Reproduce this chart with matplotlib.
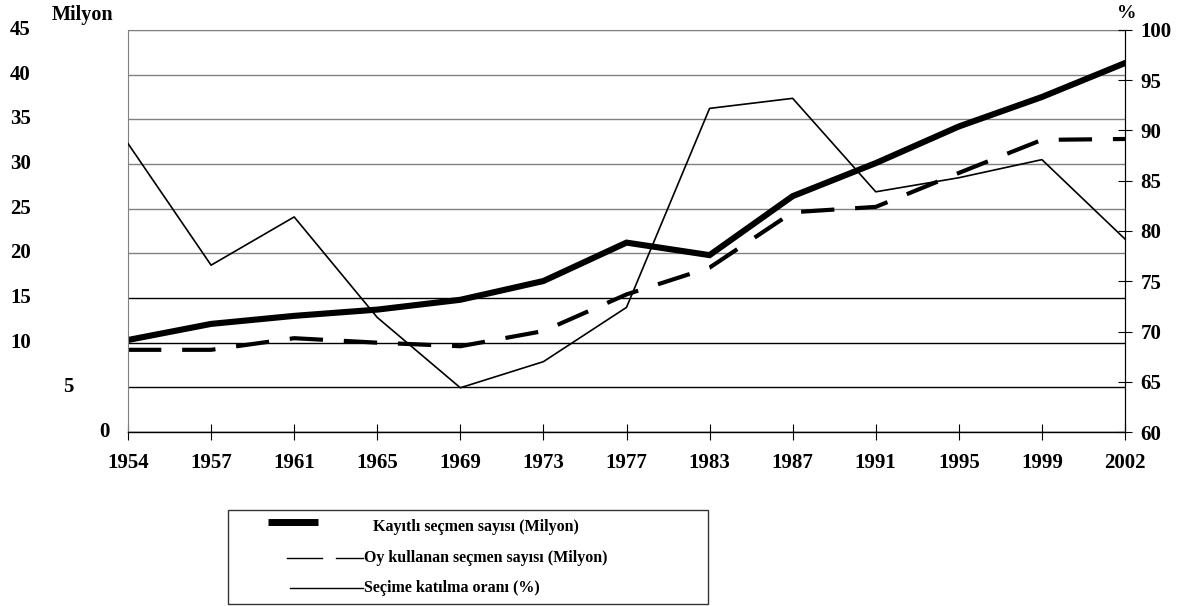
import numpy as np
import matplotlib
matplotlib.use('Agg')
import matplotlib.pyplot as plt
import matplotlib.transforms as mtransforms
from matplotlib.patches import Rectangle
from matplotlib.lines import Line2D

plt.rcParams['font.family'] = ['Liberation Serif', 'DejaVu Serif']
plt.rcParams['font.weight'] = 'bold'

# data
years = ['1954', '1957', '1961', '1965', '1969', '1973', '1977',
         '1983', '1987', '1991', '1995', '1999', '2002']
kayitli = [10.3, 12.1, 13.0, 13.7, 14.8, 16.9, 21.2, 19.8, 26.4, 30.1, 34.2, 37.5, 41.3]
oy_kullanan = [9.2, 9.2, 10.5, 10.0, 9.6, 11.3, 15.4, 18.4, 24.6, 25.2, 29.0, 32.7, 32.8]
katilma = [88.7, 76.6, 81.4, 71.4, 64.4, 67.0, 72.4, 92.2, 93.2, 83.9, 85.3, 87.1, 79.2]
labels = ['Kayıtlı seçmen sayısı (Milyon)',
          'Oy kullanan seçmen sayısı (Milyon)',
          'Seçime katılma oranı (%)']

left_ticks = [0, 5, 10, 15, 20, 25, 30, 35, 40, 45]
right_ticks = [60, 65, 70, 75, 80, 85, 90, 95, 100]

W, H = 1182, 606
def fx(p):
    return p / W
def fy(p):
    return 1 - p / H

x = np.arange(len(years))

fig = plt.figure(figsize=(W / 100, H / 100), dpi=100)
ax1 = fig.add_axes([fx(128), fy(432), (1125 - 128) / W, (432 - 30) / H])

ax1.plot(x, kayitli, color='black', lw=4.4, solid_joinstyle='miter')
l2, = ax1.plot(x, oy_kullanan, color='black', lw=3)
l2.set_dashes([8, 5])

ax1.set_xlim(0, len(years) - 1)
ax1.set_ylim(0, 45)
ax1.set_yticks(left_ticks)
ax1.set_yticklabels([])
ax1.tick_params(axis='y', length=0)
ax1.set_xticks(x)
ax1.set_xticklabels(years, fontsize=15, fontweight='bold')
ax1.tick_params(axis='x', direction='inout', length=12, width=0.8, pad=9)

ax1.grid(axis='y', lw=1)
for v, gl in zip(left_ticks, ax1.yaxis.get_gridlines()):
    gl.set_color('#808080' if v >= 20 else 'black')
ax1.spines['left'].set_color('#808080')
ax1.spines['top'].set_color('#808080')
ax1.spines['bottom'].set_linewidth(1)

# left labels, placed like in the reference
trans = mtransforms.blended_transform_factory(fig.transFigure, ax1.transData)
for v in left_ticks:
    xp = 31 if v >= 10 else (73 if v == 5 else 110)
    ax1.text(fx(xp), v, str(v), transform=trans, ha='right', va='center',
             fontsize=15, fontweight='bold')

ax2 = ax1.twinx()
ax2.plot(x, katilma, color='black', lw=1.2)
ax2.set_ylim(60, 100)
ax2.set_yticks(right_ticks)
ax2.set_yticklabels([str(v) for v in right_ticks], fontsize=15, fontweight='bold')
ax2.tick_params(axis='y', direction='inout', length=10, width=0.8, pad=6)
for s in ['left', 'top', 'bottom']:
    ax2.spines[s].set_visible(False)

fig.text(fx(52), fy(15), 'Milyon', fontsize=14.5, fontweight='bold', va='center')
fig.text(fx(1117), fy(14), '%', fontsize=14, fontweight='bold', va='center')

# legend drawn by hand, like the boxed key under the reference chart
fig.add_artist(Rectangle((fx(228), fy(604)), 480 / W, 94 / H,
                         transform=fig.transFigure, fill=False, ec='#333333', lw=1))
fig.add_artist(Line2D([fx(268), fx(318)], [fy(522), fy(522)], lw=5,
                      color='black', solid_capstyle='butt', transform=fig.transFigure))
fig.add_artist(Line2D([fx(287), fx(322)], [fy(558), fy(558)], lw=1,
                      color='black', transform=fig.transFigure))
fig.add_artist(Line2D([fx(336), fx(363)], [fy(558), fy(558)], lw=1,
                      color='black', transform=fig.transFigure))
fig.add_artist(Line2D([fx(290), fx(363)], [fy(588), fy(588)], lw=1,
                      color='black', transform=fig.transFigure))
for (tx, ty), lab in zip([(373, 527), (364, 558), (364, 588)], labels):
    fig.text(fx(tx), fy(ty), lab, fontsize=11.5, fontweight='bold', va='center')

fig.savefig('out.png', dpi=100)
